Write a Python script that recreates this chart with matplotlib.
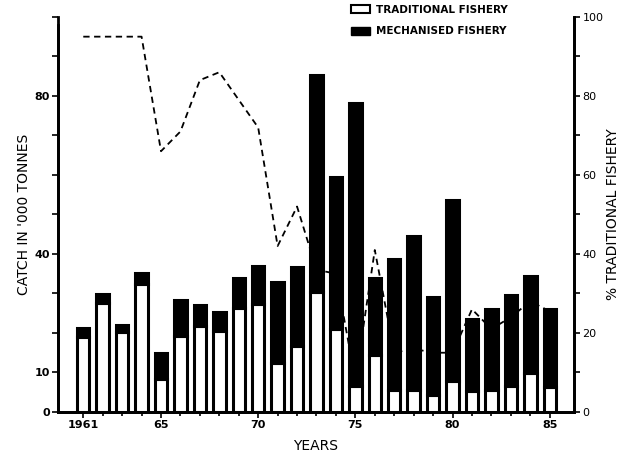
import matplotlib
matplotlib.use("Agg")
import matplotlib.pyplot as plt
from matplotlib.patches import Patch

# catch data ('000 tonnes)
years = list(range(1961, 1986))
traditional = [19.0, 27.7, 20.2, 32.4, 8.3, 19.2, 21.8, 20.4, 26.2, 27.3,
               12.4, 16.6, 30.3, 20.9, 6.6, 14.3, 5.6, 5.6, 4.3, 7.9,
               5.3, 5.6, 6.6, 9.8, 6.4]
mechanised = [2.3, 2.1, 1.7, 2.8, 6.7, 9.1, 5.2, 4.8, 7.6, 9.7,
              20.5, 20.0, 55.0, 38.6, 71.6, 19.5, 33.2, 39.0, 24.7, 45.8,
              18.3, 20.5, 22.9, 24.5, 19.7]
# % share of traditional fishery (right axis)
pct_traditional = [95, 95, 95, 95, 66, 71, 84, 86, 79, 72,
                   42, 52, 36, 35, 8, 41, 15, 16, 15, 15,
                   26, 21, 24, 28, 25.5]

year_ticks = [1961, 1965, 1970, 1975, 1980, 1985]
year_labels = ["1961", "65", "70", "75", "80", "85"]
left_labels = {0: "0", 10: "10", 40: "40", 80: "80"}
right_labels = {0: "0", 20: "20", 40: "40", 60: "60", 80: "80", 100: "100"}

plt.rcParams['font.family'] = ['DejaVu Sans']

fig = plt.figure(figsize=(6.27, 4.57), dpi=100)
ax = fig.add_axes([0.0925, 0.0985, 0.823, 0.8645])
ax2 = ax.twinx()

# dashed % line sits behind the bars (both axes run 0-100)
ax.plot(years, pct_traditional, color='black', lw=1.3, ls=(0, (3.5, 2.5)), zorder=1)

ax.bar(years, traditional, width=0.64, color='white', edgecolor='black', lw=2.2, zorder=2)
ax.bar(years, mechanised, width=0.64, bottom=traditional, color='black',
       edgecolor='black', lw=2.2, zorder=2)

ax.set_xlim(1959.7, 1986.25)
ax.set_ylim(0, 100)
ax2.set_ylim(0, 100)

ax.set_xticks(years, minor=True)
ax.set_xticks(year_ticks)
ax.set_xticklabels(year_labels, fontsize=8, fontweight='bold')
ax.set_yticks(range(0, 101, 10))
ax.set_yticklabels([left_labels.get(v, "") for v in range(0, 101, 10)],
                   fontsize=8, fontweight='bold')
ax2.set_yticks(range(0, 101, 10))
ax2.set_yticklabels([right_labels.get(v, "") for v in range(0, 101, 10)],
                    fontsize=8)

for a in (ax, ax2):
    a.spines['top'].set_visible(False)
    for s in ('left', 'right', 'bottom'):
        a.spines[s].set_linewidth(2)
    a.tick_params(direction='out', length=4, width=1.2, pad=2)
ax.tick_params(axis='x', which='minor', direction='out', length=3, width=1.2)
ax.spines['left'].set_bounds(0, 98)

ax.set_xlabel("YEARS", fontsize=10, labelpad=6)
ax.set_ylabel("CATCH IN '000 TONNES", fontsize=10, labelpad=2)
ax2.set_ylabel("% TRADITIONAL FISHERY", fontsize=10, labelpad=2)

handles = [Patch(facecolor='white', edgecolor='black', lw=1.5),
           Patch(facecolor='black', edgecolor='black')]
fig.legend(handles, ["TRADITIONAL FISHERY", "MECHANISED FISHERY"],
           loc='upper left', bbox_to_anchor=(0.545, 1.01), frameon=False,
           handlelength=1.8, handleheight=0.8,
           handletextpad=0.6, labelspacing=1.1,
           prop={'weight': 'bold', 'size': 7.5})

fig.savefig("out.png", dpi=100)
